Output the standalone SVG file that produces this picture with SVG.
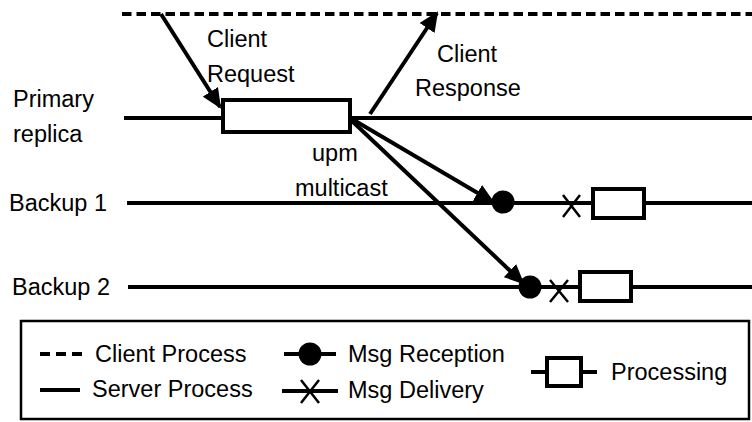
<svg xmlns="http://www.w3.org/2000/svg" width="752" height="422" viewBox="0 0 752 422">
<style>
text{font-family:"Liberation Sans",Arial,sans-serif;font-size:23.5px;fill:#000}
.ln{stroke:#000;stroke-width:4;fill:none}
.dash{stroke:#000;stroke-width:4;fill:none;stroke-dasharray:9.5 5}
.box{stroke:#000;stroke-width:4;fill:#fff}
.arr{stroke:#000;stroke-width:4;fill:none;marker-end:url(#ah)}
.x{stroke:#000;stroke-width:2.5;fill:none}
</style>
<defs>
<marker id="ah" markerUnits="userSpaceOnUse" markerWidth="20" markerHeight="18" viewBox="0 0 20 18" refX="18" refY="9" orient="auto">
<path d="M0,0 L20,9 L0,18 z" fill="#000"/>
</marker>
</defs>
<rect width="752" height="422" fill="#fff"/>
<g id="client-process"><line class="dash" x1="122" y1="14" x2="752" y2="14"/></g>
<g id="primary">
<line class="ln" x1="124" y1="118" x2="752" y2="118"/>
<text x="13" y="107">Primary</text>
<text x="13" y="142">replica</text>
</g>
<g id="backup1">
<line class="ln" x1="127" y1="203" x2="752" y2="203"/>
<text x="9" y="211">Backup 1</text>
</g>
<g id="backup2">
<line class="ln" x1="128" y1="287" x2="752" y2="287"/>
<text x="12" y="295">Backup 2</text>
</g>
<g id="connectors">
<line class="arr" x1="161" y1="14" x2="220" y2="107"/>
<line class="arr" x1="370" y1="114" x2="437" y2="13"/>
<line class="arr" x1="352" y1="119" x2="493" y2="202"/>
<line class="arr" x1="352" y1="121" x2="523" y2="283"/>
</g>
<g id="primary-processing"><rect class="box" x="223" y="100" width="127" height="32"/></g>
<g id="labels">
<text x="207" y="47">Client</text>
<text x="207" y="82">Request</text>
<text x="437" y="62">Client</text>
<text x="415" y="96">Response</text>
<text x="312" y="161">upm</text>
<text x="295" y="196">multicast</text>
</g>
<g id="b1-reception"><circle cx="503" cy="202" r="11.5" fill="#000"/></g>
<g id="b1-delivery"><path class="x" d="M563,195 L580,217 M580,195 L563,217"/></g>
<g id="b1-processing"><rect class="box" x="593" y="189" width="51" height="29"/></g>
<g id="b2-reception"><circle cx="530" cy="287" r="11.5" fill="#000"/></g>
<g id="b2-delivery"><path class="x" d="M550,280 L568,302 M568,280 L550,302"/></g>
<g id="b2-processing"><rect class="box" x="580" y="272" width="51" height="29"/></g>
<g id="legend">
<rect x="21" y="321" width="728" height="98" fill="none" stroke="#000" stroke-width="2.5"/>
<line class="dash" x1="40" y1="354" x2="82" y2="354" style="stroke-dasharray:10 6"/>
<text x="95" y="362">Client Process</text>
<line class="ln" x1="40" y1="390" x2="80" y2="390"/>
<text x="92" y="397">Server Process</text>
<line class="ln" x1="284" y1="354" x2="336" y2="354"/>
<circle cx="310" cy="354" r="11.5" fill="#000"/>
<text x="348" y="362">Msg Reception</text>
<line class="ln" x1="282" y1="391" x2="338" y2="391"/>
<path class="x" d="M301,380 L319,403 M319,380 L301,403"/>
<text x="348" y="398">Msg Delivery</text>
<line class="ln" x1="531" y1="372" x2="597" y2="372"/>
<rect class="box" x="547" y="358" width="34" height="28"/>
<text x="611" y="380">Processing</text>
</g>
</svg>
